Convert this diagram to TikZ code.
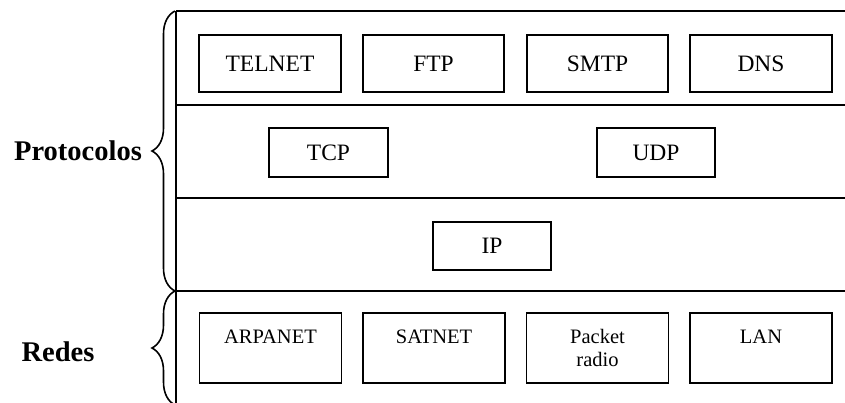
\documentclass[tikz,border=0pt]{standalone}
\usepackage{fontspec}
\setmainfont{Liberation Serif}
\usetikzlibrary{decorations.pathreplacing}
\begin{document}
\begin{tikzpicture}[x=1pt,y=-1pt,
  rule/.style={line width=1.9pt},
  box/.style={draw, line width=1.7pt, inner sep=0pt, font=\fontsize{23.5}{28}\selectfont},
  netbox/.style={draw, line width=1.7pt, inner sep=0pt, minimum width=142pt, minimum height=70pt},
  nettext/.style={anchor=north, inner sep=0pt, align=center, font=\fontsize{20.5}{23}\selectfont},
  side/.style={font=\bfseries\fontsize{28.5}{32}\selectfont, anchor=base},
  brc/.style={decorate, decoration={brace, amplitude=23pt}, line width=1.6pt}]
\useasboundingbox (0,0) rectangle (845,403);
\clip (0,0) rectangle (845,403);
% frame
\draw[rule] (176,11) -- (845,11);
\draw[rule] (176,105) -- (845,105);
\draw[rule] (176,198) -- (845,198);
\draw[rule] (176,291) -- (845,291);
\draw[rule] (176,11) -- (176,410);
% application layer
\node[box, minimum width=142pt, minimum height=57pt] (telnet) at (270,63.5) {TELNET};
\node[box, minimum width=141pt, minimum height=57pt] (ftp) at (433.5,63.5) {FTP};
\node[box, minimum width=141pt, minimum height=57pt] (smtp) at (597.5,63.5) {SMTP};
\node[box, minimum width=142pt, minimum height=57pt] (dns) at (761,63.5) {DNS};
% transport layer
\node[box, minimum width=119pt, minimum height=49pt] (tcp) at (328.5,152.5) {TCP};
\node[box, minimum width=118pt, minimum height=49pt] (udp) at (656,152.5) {UDP};
% internet layer
\node[box, minimum width=118pt, minimum height=48pt] (ip) at (492,246) {IP};
% networks
\node[netbox] (arpa) at (270.5,348) {};
\node[netbox] (sat) at (434,348) {};
\node[netbox] (packet) at (597.5,348) {};
\node[netbox] (lan) at (761,348) {};
\node[nettext] (arpat) at (270.5,329.5) {ARPANET};
\node[nettext] (satt) at (434,329.5) {SATNET};
\node[nettext] (packett) at (597.5,329.3) {Packet\\radio};
\node[nettext] (lant) at (761,329.5) {LAN};
% braces and side labels
\draw[brc] (175,291) -- (175,11);
\draw[brc] (175,405) -- (175,291);
\node[side] (proto) at (78,161) {Protocolos};
\node[side] (redes) at (58,361) {Redes};
\end{tikzpicture}
\end{document}
